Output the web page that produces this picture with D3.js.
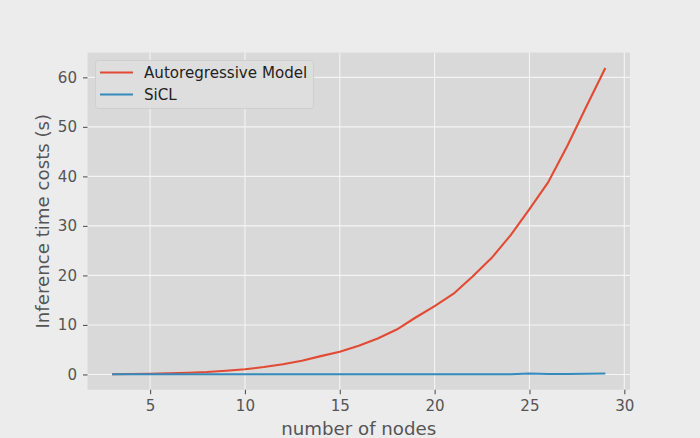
<!DOCTYPE html>
<html><head><meta charset="utf-8">
<script src="https://cdn.jsdelivr.net/npm/d3@7"></script>
<style>body{margin:0;background:#ececec;}svg{display:block;}</style>
</head><body>
<svg id="c" width="700" height="438"></svg>
<script>
const nodes = [3,4,5,6,7,8,9,10,11,12,13,14,15,16,17,18,19,20,21,22,23,24,25,26,27,28,29];
const autoregressive = [0.05,0.1,0.15,0.25,0.35,0.5,0.75,1.05,1.5,2.07,2.75,3.7,4.6,5.8,7.25,9.07,11.5,13.8,16.3,19.8,23.5,28.1,33.4,38.9,46.2,54.1,61.9];
const sicl = [0.05,0.05,0.05,0.05,0.05,0.05,0.05,0.05,0.05,0.05,0.05,0.05,0.05,0.05,0.05,0.05,0.05,0.05,0.05,0.05,0.05,0.05,0.2,0.1,0.1,0.15,0.2];
const xTicks = [5,10,15,20,25,30];
const yTicks = [0,10,20,30,40,50,60];
const seriesNames = ["Autoregressive Model","SiCL"];
const seriesColors = ["#E24A33","#348ABD"];

const svg = d3.select("#c");
const L = 87.5, R = 630, T = 52.6, B = 389.8;
const font = "DejaVu Sans, sans-serif";
const x = d3.scaleLinear().domain([1.7, 30.3]).range([L, R]);
const y = d3.scaleLinear().domain([-3.1, 65.0]).range([B, T]);

svg.append("rect").attr("x",0).attr("y",0).attr("width",700).attr("height",438).attr("fill","#ececec");
svg.append("rect").attr("x",L).attr("y",T).attr("width",R-L).attr("height",B-T).attr("fill","#d9d9d9");

// grid
svg.append("g").selectAll("line").data(xTicks).join("line")
  .attr("x1",d=>x(d)).attr("x2",d=>x(d)).attr("y1",T).attr("y2",B)
  .attr("stroke","#f4f4f4").attr("stroke-width",1.1);
svg.append("g").selectAll("line").data(yTicks).join("line")
  .attr("y1",d=>y(d)).attr("y2",d=>y(d)).attr("x1",L).attr("x2",R)
  .attr("stroke","#f4f4f4").attr("stroke-width",1.1);

// axes
const xAxis = svg.append("g").attr("transform",`translate(0,${B})`)
  .call(d3.axisBottom(x).tickValues(xTicks).tickSize(4.5).tickPadding(6).tickFormat(d3.format("d")));
const yAxis = svg.append("g").attr("transform",`translate(${L},0)`)
  .call(d3.axisLeft(y).tickValues(yTicks).tickSize(4.5).tickPadding(6).tickFormat(d3.format("d")));
[xAxis,yAxis].forEach(a=>{
  a.select(".domain").remove();
  a.selectAll(".tick line").attr("stroke","#555555").attr("stroke-width",1.1);
  a.selectAll(".tick text").attr("fill","#555555").attr("font-family",font).attr("font-size","15.1px");
});

// lines
const line = d3.line().x((d,i)=>x(nodes[i])).y(d=>y(d));
[autoregressive, sicl].forEach((s,k)=>{
  svg.append("path").datum(s).attr("d",line).attr("fill","none")
    .attr("stroke",seriesColors[k]).attr("stroke-width",2.1).attr("stroke-linejoin","round");
});

// labels
svg.append("text").attr("x",(L+R)/2).attr("y",434.5).attr("text-anchor","middle")
  .attr("font-family",font).attr("font-size","18.2px").attr("fill","#555555").text("number of nodes");
svg.append("text").attr("transform",`translate(48.5,${(T+B)/2}) rotate(-90)`).attr("text-anchor","middle")
  .attr("font-family",font).attr("font-size","18.2px").attr("fill","#555555").text("Inference time costs (s)");

// legend
const lg = svg.append("g");
lg.append("rect").attr("x",95.5).attr("y",60.5).attr("width",218).attr("height",48).attr("rx",3)
  .attr("fill","#dedede").attr("stroke","#cfcfcf").attr("stroke-width",1);
seriesNames.forEach((n,k)=>{
  const yy = 72.5 + k*22;
  lg.append("line").attr("x1",100).attr("x2",133).attr("y1",yy).attr("y2",yy)
    .attr("stroke",seriesColors[k]).attr("stroke-width",2.1);
  lg.append("text").attr("x",144).attr("y",yy+5.5).attr("font-family",font).attr("font-size","15.1px")
    .attr("fill","#222222").text(n);
});
</script>
</body></html>
